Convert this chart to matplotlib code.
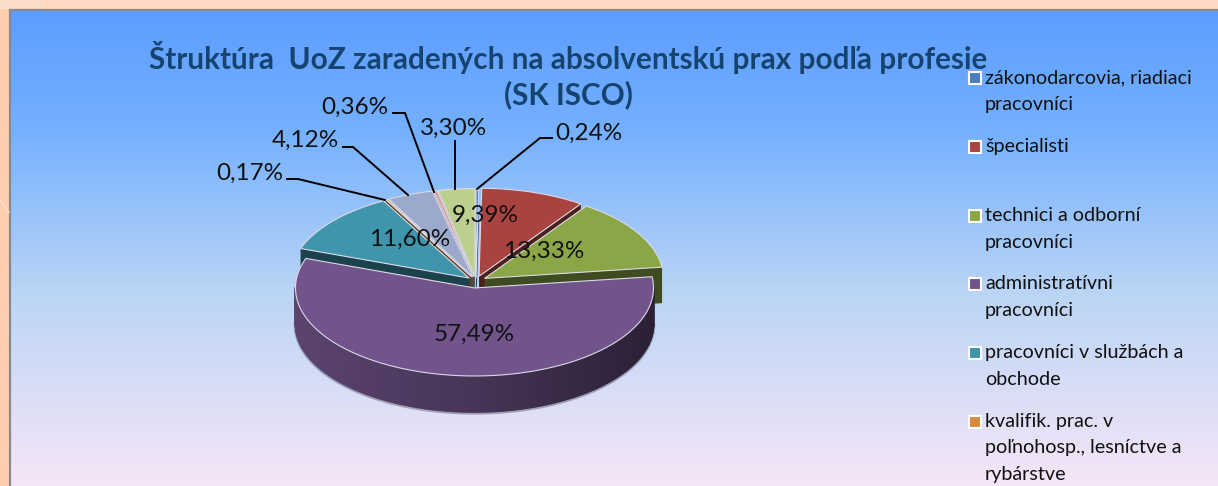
import numpy as np
import matplotlib
matplotlib.use('Agg')
import matplotlib.pyplot as plt
from matplotlib.collections import PolyCollection
from matplotlib.colors import LinearSegmentedColormap, to_rgb
from matplotlib.patches import Polygon, Rectangle

plt.rcParams['font.family'] = ['Lato', 'DejaVu Sans']

title_lines = ['Štruktúra  UoZ zaradených na absolventskú prax podľa profesie', '(SK ISCO)']
categories = ['zákonodarcovia, riadiaci\npracovníci', 'špecialisti',
              'technici a odborní\npracovníci', 'administratívni\npracovníci',
              'pracovníci v službách a\nobchode',
              'kvalifik. prac. v\npoľnohosp., lesníctve a\nrybárstve',
              'remeselníci', 'operátori', 'pomocní pracovníci']
values = [0.24, 9.39, 13.33, 57.49, 11.60, 0.17, 4.12, 0.36, 3.30]
colors = ['#4A7EBB', '#A9433F', '#8BA646', '#72548C', '#3F95AC',
          '#D98A3D', '#9AA9CC', '#DBA09F', '#BDCF8E']
explode = [5, 10, 10, 14, 9, 9, 9, 9, 9]

CX, CY, RX, RY, DEPTH = 476, 281, 179, 88, 36
W, H = 1218, 486

fig = plt.figure(figsize=(W / 100, H / 100), dpi=100, facecolor='#FFCFB0')
ax = fig.add_axes([0, 0, 1, 1])

# background panel
cmap = LinearSegmentedColormap.from_list('bg', [(0, '#5C9DFF'), (0.25, '#74B0FF'),
                                                (0.6, '#BBD5F5'), (1, '#F6E6F8')])
ax.imshow(np.linspace(0, 1, 256).reshape(-1, 1), cmap=cmap, aspect='auto',
          extent=(10, W, H, 10), zorder=0)
ax.set_xlim(0, W)
ax.set_ylim(H, 0)
ax.axis('off')
ax.add_patch(Rectangle((0, 0), W, 9, fc='#FFD9C2', ec='none', zorder=0))
ax.add_patch(Rectangle((0, 0), 45, 9, fc='#FBDCC8', ec='none', zorder=0))
ax.plot([10, W], [10, 10], color='#8A8A8A', lw=1.6, zorder=1)
ax.plot([10, 10], [10, H], color='#8A8A8A', lw=1.6, zorder=1)
ax.plot([0, 9], [200, 212], color='#FFDCC8', lw=1.2, zorder=1)


def pt(a, t):
    return a[0] + RX * np.sin(t), a[1] - RY * np.cos(t)


def shade(col, f):
    return tuple(c * f for c in to_rgb(col))


ends = np.cumsum(values) / sum(values) * 2 * np.pi
starts = np.r_[0, ends[:-1]]
mids = (starts + ends) / 2
order = np.argsort(-np.cos(mids))

z = 3
for i in order:
    t0, t1, tm = starts[i], ends[i], mids[i]
    apex = (CX + explode[i] * np.sin(tm), CY - 0.5 * explode[i] * np.cos(tm))
    ts = np.linspace(t0, t1, max(int((t1 - t0) * 60), 2) + 1)
    xs, ys = pt(apex, ts)

    # purple casts a soft shadow under the rim
    if values[i] > 50:
        tb = ts[np.cos(ts) < 0]
        bx, by = pt(apex, tb)
        ax.plot(bx, by + DEPTH + 1, color='#555566', alpha=0.45, lw=2.5, zorder=z)

    # cut faces, only those turned to the viewer
    for t, show in ((t1, t1 < np.pi), (t0, t0 > np.pi)):
        if show:
            x, y = pt(apex, t)
            ax.add_patch(Polygon([apex, (x, y), (x, y + DEPTH), (apex[0], apex[1] + DEPTH)],
                                 fc=shade(colors[i], 0.45), ec='none', zorder=z))

    # outer rim, split up so the shade can change along the arc
    quads, cols = [], []
    for a, b in zip(ts[:-1], ts[1:]):
        if np.cos((a + b) / 2) < 0:
            xa, ya = pt(apex, a)
            xb, yb = pt(apex, b)
            quads.append([(xa, ya), (xb, yb), (xb, yb + DEPTH), (xa, ya + DEPTH)])
            s = np.sin((a + b) / 2)
            cols.append(shade(colors[i], np.interp(s, [-1, 0, 1], [0.80, 0.62, 0.38])))
    if quads:
        ax.add_collection(PolyCollection(quads, facecolors=cols, edgecolors=cols,
                                         linewidths=1.2, zorder=z))

    ax.add_patch(Polygon(np.r_[[apex], np.c_[xs, ys]], fc=colors[i], ec='#DADAE6',
                         lw=0.8, zorder=z + 0.5))
    z += 1

for line, y in zip(title_lines, (58, 95)):
    ax.text(568, y, line, ha='center', va='center', fontsize=21.4, fontweight='bold',
            color='#17436F', zorder=30)

# data labels and leader lines
texts = [f'{v:.2f}%'.replace('.', ',') for v in values]
label_xy = [(589, 133), (485, 215), (544, 251), (474, 334), (410, 239),
            (250, 173), (305, 140), (355, 107), (454, 128)]
leaders = {0: [(552, 138), (540, 138), (477, 189)],
           5: [(287, 179), (298, 179), (385, 200)],
           6: [(343, 147), (353, 147), (408, 195)],
           7: [(393, 113), (405, 113), (434, 192)],
           8: [(455, 141), (455, 189)]}
for i, pts in leaders.items():
    ax.plot(*zip(*pts), color='black', lw=1.4, zorder=31)
for txt, (x, y) in zip(texts, label_xy):
    ax.text(x, y, txt, ha='center', va='center', fontsize=17.5, color='#111111', zorder=32)

# legend, the chart cuts off after the sixth entry
for i, lab in enumerate(categories[:6]):
    y = 78.5 + i * 68.6
    ax.add_patch(Rectangle((968.5, y - 6), 12, 12, fc=colors[i], ec='white', lw=1.5, zorder=32))
    ax.text(985, y - 9, lab, ha='left', va='top', fontsize=14.2, color='#111111',
            linespacing=1.7, zorder=32)

fig.savefig('out.png', dpi=100, facecolor=fig.get_facecolor())
